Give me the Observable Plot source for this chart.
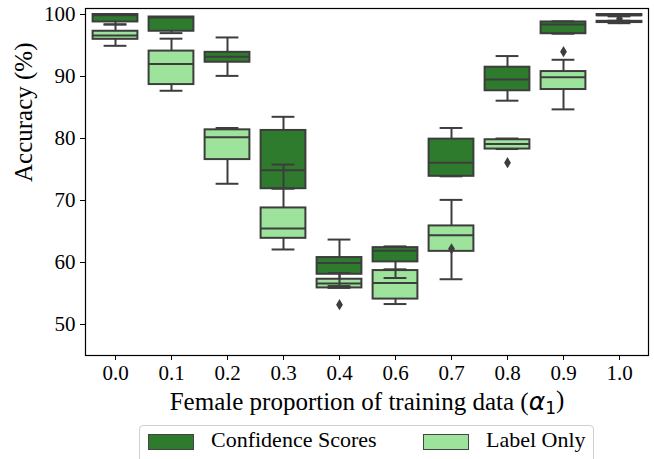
<!DOCTYPE html>
<html>
<head>
<meta charset="utf-8">
<script src="https://cdn.jsdelivr.net/npm/d3@7"></script>
<script src="https://cdn.jsdelivr.net/npm/@observablehq/plot@0.6"></script>
<style>
  html, body { margin: 0; padding: 0; background: #fff; overflow: hidden; }
  #wrap { position: relative; width: 654px; height: 459px; }
  #wrap svg, #wrap svg text { font-family: "Liberation Serif", "Times New Roman", serif !important; }
  #legend { position: absolute; left: 139px; top: 425px; width: 455px; height: 44px;
    border: 1px solid #d0d0d0; border-radius: 4px; box-sizing: border-box; background: #fff;
    font-family: "Liberation Serif", serif; font-size: 22px; color: #000; }
  .sw { position: absolute; top: 8px; width: 46px; height: 16px; box-sizing: border-box; border: 1.2px solid #444; }
  .lt { position: absolute; top: 2px; line-height: 24px; white-space: nowrap; }
</style>
</head>
<body>
<div id="wrap"></div>
<script>
const categories = ["0.0","0.1","0.2","0.3","0.4","0.6","0.7","0.8","0.9","1.0"];
const seriesNames = ["Confidence Scores", "Label Only"];
const seriesColors = ["#2e7b2e", "#9de39c"];
const yTicks = [50, 60, 70, 80, 90, 100];

// Confidence Scores (dark green)
const confLow  = [98.4, 97.0, 90.1, 71.9, 56.2, 57.5, 73.9, 86.1, 96.9, 99.7];
const confQ1   = [98.8, 97.3, 92.3, 71.9, 58.1, 60.1, 73.9, 87.7, 96.9, 99.8];
const confMed  = [99.9, 99.5, 93.2, 74.9, 59.9, 61.9, 76.1, 89.5, 98.4, 99.9];
const confQ3   = [100.0, 99.6, 93.9, 81.3, 60.8, 62.4, 79.9, 91.5, 98.8, 100.0];
const confHigh = [100.0, 99.6, 96.3, 83.5, 63.7, 62.6, 81.7, 93.3, 98.9, 100.0];

// Label Only (light green)
const labLow  = [94.95, 87.7, 72.7, 62.1, 55.9, 53.3, 57.3, 78.3, 84.7, 98.6];
const labQ1   = [96.0, 88.7, 76.6, 63.9, 55.9, 54.1, 61.8, 78.3, 87.9, 98.7];
const labMed  = [96.6, 92.0, 80.2, 65.5, 56.6, 56.7, 64.4, 79.1, 89.9, 98.8];
const labQ3   = [97.3, 94.1, 81.4, 68.8, 57.3, 58.7, 65.9, 79.8, 90.8, 98.9];
const labHigh = [98.4, 96.1, 81.7, 75.8, 58.3, 58.9, 70.1, 80.0, 92.7, 99.0];
const labOutliers = [null, null, null, null, 53.2, null, 62.2, 76.1, 94.0, 99.3];

function table(series, low, q1, med, q3, high) {
  return categories.map((cat, i) => ({cat, series, low: low[i], q1: q1[i], med: med[i], q3: q3[i], high: high[i]}));
}
const rows = [
  ...table(seriesNames[0], confLow, confQ1, confMed, confQ3, confHigh),
  ...table(seriesNames[1], labLow, labQ1, labMed, labQ3, labHigh)
];
const outliers = categories.map((cat, i) => ({cat, v: labOutliers[i]})).filter(d => d.v != null);

const lineColor = "#3d3d3d";
const boxInset = 5.6;
const capInset = 16.6;

const thinDiamond = {
  draw(context, size) {
    const r = Math.sqrt(size / Math.PI);
    const h = r * 1.4, w = r * 0.85;
    context.moveTo(0, -h);
    context.lineTo(w, 0);
    context.lineTo(0, h);
    context.lineTo(-w, 0);
    context.closePath();
  }
};

const font = "Liberation Serif";
const xLabel = "Female proportion of training data (α1)";

const chart = Plot.plot({
  width: 654,
  height: 425,
  marginLeft: 85,
  marginRight: 6,
  marginTop: 8,
  marginBottom: 70,
  style: {fontFamily: font, fontSize: "21px", color: "#000", background: "#fff"},
  x: {type: "band", domain: categories, padding: 0, label: null},
  y: {domain: [45.0, 100.97], label: null},
  color: {domain: seriesNames, range: seriesColors},
  marks: [
    Plot.barY(rows, {x: "cat", y1: "q1", y2: "q3", fill: "series", stroke: lineColor, strokeWidth: 2, insetLeft: boxInset, insetRight: boxInset}),
    Plot.ruleX(rows, {x: "cat", y1: "q3", y2: "high", stroke: lineColor, strokeWidth: 2}),
    Plot.ruleX(rows, {x: "cat", y1: "low", y2: "q1", stroke: lineColor, strokeWidth: 2}),
    Plot.tickY(rows, {x: "cat", y: "high", stroke: lineColor, strokeWidth: 2, insetLeft: capInset, insetRight: capInset}),
    Plot.tickY(rows, {x: "cat", y: "low", stroke: lineColor, strokeWidth: 2, insetLeft: capInset, insetRight: capInset}),
    Plot.tickY(rows, {x: "cat", y: "med", stroke: lineColor, strokeWidth: 2, insetLeft: boxInset, insetRight: boxInset}),
    Plot.dot(outliers, {x: "cat", y: "v", symbol: thinDiamond, r: 4, fill: lineColor, stroke: "none"}),
    Plot.frame({stroke: "#000", strokeWidth: 1.2}),
    Plot.axisX({tickSize: 5, tickPadding: 5, fontSize: 21, fontFamily: font, label: null}),
    Plot.axisY({ticks: yTicks, tickSize: 5, tickPadding: 5, fontSize: 21, fontFamily: font, label: null}),
    Plot.text(["Accuracy (%)"], {frameAnchor: "left", dx: -62, rotate: -90, fontSize: 25, fontFamily: font, fill: "#000"}),
    Plot.text([xLabel], {frameAnchor: "bottom", dy: 54, lineAnchor: "bottom", fontSize: 25, fontFamily: font, fill: "#000"})
  ]
});

// typeset alpha with subscript
d3.select(chart).selectAll("text").filter(function() { return this.textContent === xLabel; })
  .each(function() {
    const t = d3.select(this);
    t.text("");
    t.append("tspan").text("Female proportion of training data (");
    t.append("tspan").attr("style", "font-family: 'DejaVu Sans'; font-style: italic").text("α");
    t.append("tspan").attr("style", "font-family: 'DejaVu Sans'; font-size: 17px").attr("dy", "0.25em").text("1");
    t.append("tspan").attr("dy", "-0.25em").text(")");
  });

const wrap = document.getElementById("wrap");
wrap.appendChild(chart);

const legend = document.createElement("div");
legend.id = "legend";
const items = [
  {name: seriesNames[0], color: seriesColors[0], sx: 8, tx: 71},
  {name: seriesNames[1], color: seriesColors[1], sx: 283, tx: 346}
];
for (const it of items) {
  const sw = document.createElement("div");
  sw.className = "sw";
  sw.style.left = it.sx + "px";
  sw.style.background = it.color;
  legend.appendChild(sw);
  const lt = document.createElement("div");
  lt.className = "lt";
  lt.style.left = it.tx + "px";
  lt.textContent = it.name;
  legend.appendChild(lt);
}
wrap.appendChild(legend);
</script>
</body>
</html>
